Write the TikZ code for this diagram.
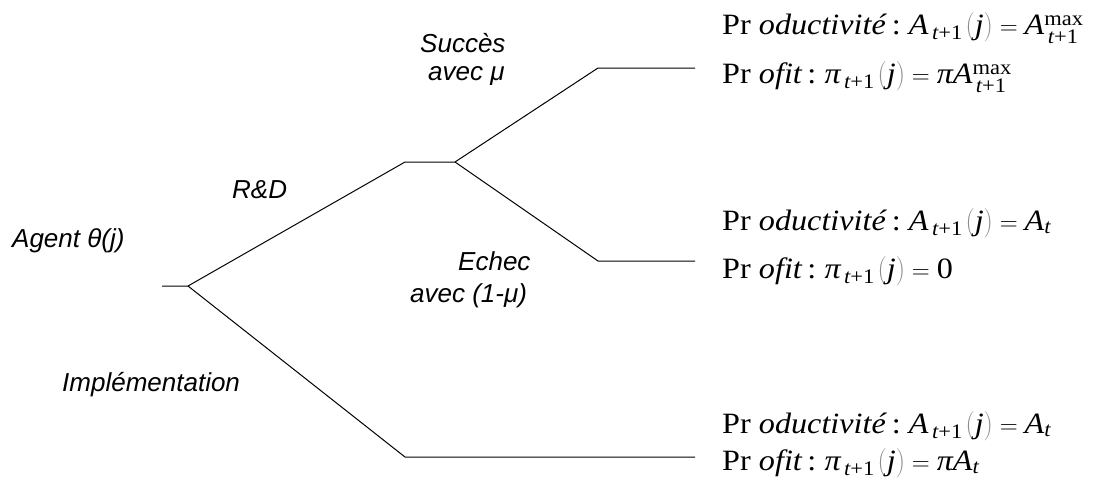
\documentclass[tikz,border=0pt]{standalone}
\usepackage{amsmath}
\usepackage{graphicx}
\usepackage{fontspec}
\setmainfont{Liberation Serif}[FakeStretch=1.09]
\newfontfamily\labfont{Liberation Sans}
\tikzset{
  branch/.style={line width=1pt, black},
  lab/.style={anchor=base west, inner sep=0pt, font=\labfont\itshape\fontsize{26}{30}\selectfont},
  eq/.style={anchor=base west, inner sep=0pt, font=\fontsize{29.5}{32}\selectfont},
}
\newcommand\vi[1]{\textit{#1}}
\newcommand\lp{\mkern2mu\mathopen{\textcolor{black!45}{\scalebox{1.05}[1.18]{$($}}}}
\newcommand\rp{\mathclose{\textcolor{black!45}{\scalebox{1.05}[1.18]{$)$}}}}
\newcommand\tp{\,\vi{t}\text{+1}}
\newcommand\mx{\raisebox{-3pt}{$\scriptstyle\text{max}$}}
\begin{document}
\begin{tikzpicture}[x=1pt,y=-1pt]
\useasboundingbox (0,0) rectangle (1094,485);
% branch points
\coordinate (r0) at (162,286);
\coordinate (r1) at (188,286);
\coordinate (d0) at (405,162);
\coordinate (d1) at (455,162);
\coordinate (s0) at (598,68);
\coordinate (s1) at (695,68);
\coordinate (f0) at (598,261);
\coordinate (f1) at (695,261);
\coordinate (i0) at (405,457);
\coordinate (i1) at (695,457);
\draw[branch] (r0) -- (r1) -- (d0) -- (d1) -- (s0) -- (s1);
\draw[branch] (d1) -- (f0) -- (f1);
\draw[branch] (r1) -- (i0) -- (i1);
% labels
\node[lab] (agent) at (12,247) {Agent \textit{θ}(j)};
\node[lab] (rd) at (232,198) {R\&D};
\node[lab] (succ) at (420,52) {Succès};
\node[lab] (succmu) at (428,80) {avec μ};
\node[lab] (ech) at (458,270) {Echec};
\node[lab] (echmu) at (410,302) {avec (1-μ)};
\node[lab] (impl) at (62,391) {Implémentation};
% outcomes
\node[eq] (p1) at (722,34) {Pr\;\vi{oductivité}\,:\;$\vi{A}_{\tp}\lp\vi{j}\rp=\vi{A}^{\mx}_{\tp}$};
\node[eq] (q1) at (722,83) {Pr\;\vi{ofit}\,:\;$\vi{π}_{\tp}\lp\vi{j}\rp=\vi{πA}^{\mx}_{\tp}$};
\node[eq] (p2) at (722,230) {Pr\;\vi{oductivité}\,:\;$\vi{A}_{\tp}\lp\vi{j}\rp=\vi{A}_{\vi{t}}$};
\node[eq] (q2) at (722,278) {Pr\;\vi{ofit}\,:\;$\vi{π}_{\tp}\lp\vi{j}\rp=\text{0}$};
\node[eq] (p3) at (722,433) {Pr\;\vi{oductivité}\,:\;$\vi{A}_{\tp}\lp\vi{j}\rp=\vi{A}_{\vi{t}}$};
\node[eq] (q3) at (722,470) {Pr\;\vi{ofit}\,:\;$\vi{π}_{\tp}\lp\vi{j}\rp=\vi{πA}_{\vi{t}}$};
\end{tikzpicture}
\end{document}
